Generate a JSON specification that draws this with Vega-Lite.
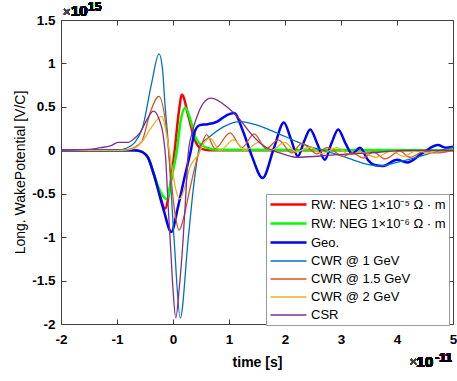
{
 "$schema": "https://vega.github.io/schema/vega-lite/v6.json",
 "width": 392, "height": 304,
 "autosize": {"type": "none"},
 "padding": {"left": 61, "top": 20, "right": 4, "bottom": 57},
 "background": "white",
 "config": {
  "view": {"stroke": "#404040", "strokeWidth": 1},
  "font": "Liberation Sans",
  "legend": {"orient": "none", "legendX": 205, "legendY": 174, "symbolType": "M-3,0H3", "symbolSize": 144, "symbolOffset": 12, "labelOffset": 15, "labelFontSize": 13, "labelFont": "Liberation Sans", "labelColor": "#000", "fillColor": "white", "strokeColor": "#999", "padding": 3, "rowPadding": 4, "symbolStrokeWidth": 2}
 },
 "data": {"values": [
  {"s":"RW: NEG 1×10⁻⁵ Ω · m","t":-2,"v":0},{"s":"RW: NEG 1×10⁻⁵ Ω · m","t":-0.7,"v":0},{"s":"RW: NEG 1×10⁻⁵ Ω · m","t":-0.59,"v":-0.01},{"s":"RW: NEG 1×10⁻⁵ Ω · m","t":-0.45,"v":-0.08},{"s":"RW: NEG 1×10⁻⁵ Ω · m","t":-0.35,"v":-0.26},{"s":"RW: NEG 1×10⁻⁵ Ω · m","t":-0.25,"v":-0.48},{"s":"RW: NEG 1×10⁻⁵ Ω · m","t":-0.14,"v":-0.67},{"s":"RW: NEG 1×10⁻⁵ Ω · m","t":-0.06,"v":-0.45},{"s":"RW: NEG 1×10⁻⁵ Ω · m","t":0.03,"v":0},{"s":"RW: NEG 1×10⁻⁵ Ω · m","t":0.1,"v":0.42},{"s":"RW: NEG 1×10⁻⁵ Ω · m","t":0.16,"v":0.64},{"s":"RW: NEG 1×10⁻⁵ Ω · m","t":0.28,"v":0.38},{"s":"RW: NEG 1×10⁻⁵ Ω · m","t":0.39,"v":0.12},{"s":"RW: NEG 1×10⁻⁵ Ω · m","t":0.5,"v":0.02},{"s":"RW: NEG 1×10⁻⁵ Ω · m","t":0.65,"v":0},{"s":"RW: NEG 1×10⁻⁵ Ω · m","t":5,"v":0},
  {"s":"RW: NEG 1×10⁻⁶ Ω · m","t":-2,"v":0},{"s":"RW: NEG 1×10⁻⁶ Ω · m","t":-0.7,"v":0},{"s":"RW: NEG 1×10⁻⁶ Ω · m","t":-0.59,"v":-0.01},{"s":"RW: NEG 1×10⁻⁶ Ω · m","t":-0.45,"v":-0.08},{"s":"RW: NEG 1×10⁻⁶ Ω · m","t":-0.35,"v":-0.26},{"s":"RW: NEG 1×10⁻⁶ Ω · m","t":-0.23,"v":-0.47},{"s":"RW: NEG 1×10⁻⁶ Ω · m","t":-0.11,"v":-0.56},{"s":"RW: NEG 1×10⁻⁶ Ω · m","t":-0.02,"v":-0.3},{"s":"RW: NEG 1×10⁻⁶ Ω · m","t":0.07,"v":0},{"s":"RW: NEG 1×10⁻⁶ Ω · m","t":0.14,"v":0.35},{"s":"RW: NEG 1×10⁻⁶ Ω · m","t":0.22,"v":0.49},{"s":"RW: NEG 1×10⁻⁶ Ω · m","t":0.33,"v":0.31},{"s":"RW: NEG 1×10⁻⁶ Ω · m","t":0.42,"v":0.12},{"s":"RW: NEG 1×10⁻⁶ Ω · m","t":0.6,"v":0.03},{"s":"RW: NEG 1×10⁻⁶ Ω · m","t":0.8,"v":0.005},{"s":"RW: NEG 1×10⁻⁶ Ω · m","t":5,"v":0},
  {"s":"Geo.","t":-2,"v":0},{"s":"Geo.","t":-0.7,"v":0},{"s":"Geo.","t":-0.59,"v":-0.01},{"s":"Geo.","t":-0.45,"v":-0.08},{"s":"Geo.","t":-0.35,"v":-0.26},{"s":"Geo.","t":-0.17,"v":-0.68},{"s":"Geo.","t":-0.03,"v":-0.94},{"s":"Geo.","t":0.09,"v":-0.65},{"s":"Geo.","t":0.21,"v":-0.3},{"s":"Geo.","t":0.32,"v":0},{"s":"Geo.","t":0.39,"v":0.22},{"s":"Geo.","t":0.48,"v":0.29},{"s":"Geo.","t":0.62,"v":0.3},{"s":"Geo.","t":0.79,"v":0.33},{"s":"Geo.","t":0.95,"v":0.4},{"s":"Geo.","t":1.09,"v":0.43},{"s":"Geo.","t":1.25,"v":0.22},{"s":"Geo.","t":1.41,"v":-0.07},{"s":"Geo.","t":1.6,"v":-0.32},{"s":"Geo.","t":1.8,"v":0.02},{"s":"Geo.","t":1.98,"v":0.32},{"s":"Geo.","t":2.1,"v":0.14},{"s":"Geo.","t":2.23,"v":-0.07},{"s":"Geo.","t":2.34,"v":0.1},{"s":"Geo.","t":2.45,"v":0.24},{"s":"Geo.","t":2.58,"v":0.07},{"s":"Geo.","t":2.71,"v":-0.11},{"s":"Geo.","t":2.83,"v":0.08},{"s":"Geo.","t":2.95,"v":0.24},{"s":"Geo.","t":3.08,"v":0.08},{"s":"Geo.","t":3.2,"v":-0.04},{"s":"Geo.","t":3.34,"v":0.03},{"s":"Geo.","t":3.48,"v":-0.11},{"s":"Geo.","t":3.6,"v":-0.17},{"s":"Geo.","t":3.75,"v":-0.18},{"s":"Geo.","t":4.0,"v":-0.11},{"s":"Geo.","t":4.18,"v":-0.14},{"s":"Geo.","t":4.46,"v":-0.03},{"s":"Geo.","t":4.73,"v":0.06},{"s":"Geo.","t":4.87,"v":0.03},{"s":"Geo.","t":5,"v":0.04},
  {"s":"CWR @ 1 GeV","t":-2,"v":0},{"s":"CWR @ 1 GeV","t":-1.0,"v":0},{"s":"CWR @ 1 GeV","t":-0.85,"v":0.02},{"s":"CWR @ 1 GeV","t":-0.68,"v":0.09},{"s":"CWR @ 1 GeV","t":-0.54,"v":0.27},{"s":"CWR @ 1 GeV","t":-0.38,"v":0.78},{"s":"CWR @ 1 GeV","t":-0.25,"v":1.11},{"s":"CWR @ 1 GeV","t":-0.19,"v":0.95},{"s":"CWR @ 1 GeV","t":-0.14,"v":0.5},{"s":"CWR @ 1 GeV","t":-0.09,"v":0.12},{"s":"CWR @ 1 GeV","t":0.02,"v":-1.03},{"s":"CWR @ 1 GeV","t":0.13,"v":-1.93},{"s":"CWR @ 1 GeV","t":0.27,"v":-1.03},{"s":"CWR @ 1 GeV","t":0.38,"v":-0.35},{"s":"CWR @ 1 GeV","t":0.48,"v":0.05},{"s":"CWR @ 1 GeV","t":0.66,"v":0.16},{"s":"CWR @ 1 GeV","t":0.9,"v":0.27},{"s":"CWR @ 1 GeV","t":1.2,"v":0.33},{"s":"CWR @ 1 GeV","t":1.5,"v":0.29},{"s":"CWR @ 1 GeV","t":1.82,"v":0.21},{"s":"CWR @ 1 GeV","t":2.21,"v":0.1},{"s":"CWR @ 1 GeV","t":2.45,"v":0.04},{"s":"CWR @ 1 GeV","t":2.68,"v":0},{"s":"CWR @ 1 GeV","t":3.04,"v":-0.07},{"s":"CWR @ 1 GeV","t":3.4,"v":-0.15},{"s":"CWR @ 1 GeV","t":3.7,"v":-0.18},{"s":"CWR @ 1 GeV","t":4.0,"v":-0.14},{"s":"CWR @ 1 GeV","t":4.41,"v":-0.07},{"s":"CWR @ 1 GeV","t":4.71,"v":-0.01},{"s":"CWR @ 1 GeV","t":5,"v":0.03},
  {"s":"CWR @ 1.5 GeV","t":-2,"v":0},{"s":"CWR @ 1.5 GeV","t":-1.0,"v":0},{"s":"CWR @ 1.5 GeV","t":-0.8,"v":0.01},{"s":"CWR @ 1.5 GeV","t":-0.56,"v":0.1},{"s":"CWR @ 1.5 GeV","t":-0.41,"v":0.43},{"s":"CWR @ 1.5 GeV","t":-0.25,"v":0.62},{"s":"CWR @ 1.5 GeV","t":-0.11,"v":0.2},{"s":"CWR @ 1.5 GeV","t":-0.03,"v":-0.35},{"s":"CWR @ 1.5 GeV","t":0.04,"v":-0.75},{"s":"CWR @ 1.5 GeV","t":0.11,"v":-0.92},{"s":"CWR @ 1.5 GeV","t":0.2,"v":-0.75},{"s":"CWR @ 1.5 GeV","t":0.3,"v":-0.45},{"s":"CWR @ 1.5 GeV","t":0.4,"v":-0.17},{"s":"CWR @ 1.5 GeV","t":0.48,"v":0},{"s":"CWR @ 1.5 GeV","t":0.6,"v":0.18},{"s":"CWR @ 1.5 GeV","t":0.75,"v":0.02},{"s":"CWR @ 1.5 GeV","t":1.02,"v":0.2},{"s":"CWR @ 1.5 GeV","t":1.23,"v":0.03},{"s":"CWR @ 1.5 GeV","t":1.45,"v":0.19},{"s":"CWR @ 1.5 GeV","t":1.66,"v":0.02},{"s":"CWR @ 1.5 GeV","t":1.88,"v":0.12},{"s":"CWR @ 1.5 GeV","t":2.12,"v":-0.03},{"s":"CWR @ 1.5 GeV","t":2.3,"v":0.08},{"s":"CWR @ 1.5 GeV","t":2.57,"v":-0.04},{"s":"CWR @ 1.5 GeV","t":2.75,"v":0.03},{"s":"CWR @ 1.5 GeV","t":3.04,"v":-0.07},{"s":"CWR @ 1.5 GeV","t":3.2,"v":-0.03},{"s":"CWR @ 1.5 GeV","t":3.4,"v":-0.09},{"s":"CWR @ 1.5 GeV","t":3.57,"v":-0.02},{"s":"CWR @ 1.5 GeV","t":3.79,"v":-0.1},{"s":"CWR @ 1.5 GeV","t":4.05,"v":-0.01},{"s":"CWR @ 1.5 GeV","t":4.23,"v":-0.08},{"s":"CWR @ 1.5 GeV","t":4.5,"v":-0.01},{"s":"CWR @ 1.5 GeV","t":4.7,"v":-0.03},{"s":"CWR @ 1.5 GeV","t":5,"v":0},
  {"s":"CWR @ 2 GeV","t":-2,"v":0},{"s":"CWR @ 2 GeV","t":-0.9,"v":0},{"s":"CWR @ 2 GeV","t":-0.7,"v":0.02},{"s":"CWR @ 2 GeV","t":-0.54,"v":0.11},{"s":"CWR @ 2 GeV","t":-0.38,"v":0.27},{"s":"CWR @ 2 GeV","t":-0.2,"v":0.39},{"s":"CWR @ 2 GeV","t":-0.12,"v":0.2},{"s":"CWR @ 2 GeV","t":-0.03,"v":-0.15},{"s":"CWR @ 2 GeV","t":0.05,"v":-0.45},{"s":"CWR @ 2 GeV","t":0.12,"v":-0.56},{"s":"CWR @ 2 GeV","t":0.2,"v":-0.45},{"s":"CWR @ 2 GeV","t":0.3,"v":-0.2},{"s":"CWR @ 2 GeV","t":0.45,"v":-0.05},{"s":"CWR @ 2 GeV","t":0.55,"v":0.08},{"s":"CWR @ 2 GeV","t":0.66,"v":0.14},{"s":"CWR @ 2 GeV","t":0.84,"v":0},{"s":"CWR @ 2 GeV","t":1.08,"v":0.12},{"s":"CWR @ 2 GeV","t":1.29,"v":0},{"s":"CWR @ 2 GeV","t":1.53,"v":0.09},{"s":"CWR @ 2 GeV","t":1.75,"v":0},{"s":"CWR @ 2 GeV","t":2.0,"v":0.09},{"s":"CWR @ 2 GeV","t":2.2,"v":-0.02},{"s":"CWR @ 2 GeV","t":2.45,"v":0.04},{"s":"CWR @ 2 GeV","t":2.65,"v":-0.04},{"s":"CWR @ 2 GeV","t":2.93,"v":0.03},{"s":"CWR @ 2 GeV","t":3.16,"v":-0.05},{"s":"CWR @ 2 GeV","t":3.35,"v":-0.02},{"s":"CWR @ 2 GeV","t":3.62,"v":-0.08},{"s":"CWR @ 2 GeV","t":3.9,"v":-0.01},{"s":"CWR @ 2 GeV","t":4.12,"v":-0.07},{"s":"CWR @ 2 GeV","t":4.36,"v":0},{"s":"CWR @ 2 GeV","t":4.54,"v":-0.03},{"s":"CWR @ 2 GeV","t":4.75,"v":0},{"s":"CWR @ 2 GeV","t":5,"v":0},
  {"s":"CSR","t":-2,"v":0},{"s":"CSR","t":-1.5,"v":0.01},{"s":"CSR","t":-1.3,"v":0.03},{"s":"CSR","t":-1.12,"v":0.05},{"s":"CSR","t":-0.98,"v":0.09},{"s":"CSR","t":-0.82,"v":0.09},{"s":"CSR","t":-0.7,"v":0.13},{"s":"CSR","t":-0.59,"v":0.2},{"s":"CSR","t":-0.45,"v":0.37},{"s":"CSR","t":-0.35,"v":0.45},{"s":"CSR","t":-0.25,"v":0.36},{"s":"CSR","t":-0.17,"v":0.15},{"s":"CSR","t":-0.13,"v":-0.1},{"s":"CSR","t":-0.09,"v":-0.6},{"s":"CSR","t":-0.04,"v":-1.15},{"s":"CSR","t":0.0,"v":-1.6},{"s":"CSR","t":0.05,"v":-1.93},{"s":"CSR","t":0.11,"v":-1.6},{"s":"CSR","t":0.18,"v":-1.03},{"s":"CSR","t":0.23,"v":-0.5},{"s":"CSR","t":0.27,"v":-0.05},{"s":"CSR","t":0.34,"v":0.2},{"s":"CSR","t":0.43,"v":0.39},{"s":"CSR","t":0.54,"v":0.54},{"s":"CSR","t":0.68,"v":0.6},{"s":"CSR","t":0.96,"v":0.5},{"s":"CSR","t":1.2,"v":0.35},{"s":"CSR","t":1.38,"v":0.2},{"s":"CSR","t":1.64,"v":0.04},{"s":"CSR","t":1.91,"v":-0.03},{"s":"CSR","t":2.2,"v":-0.08},{"s":"CSR","t":2.93,"v":-0.05},{"s":"CSR","t":3.5,"v":-0.03},{"s":"CSR","t":4.2,"v":0},{"s":"CSR","t":5,"v":0}
 ]},
 "layer": [
  {
   "mark": {"type": "line", "interpolate": "monotone"},
   "encoding": {
    "x": {"field": "t", "type": "quantitative", "scale": {"domain": [-2, 5], "nice": false, "zero": false},
      "axis": {"values": [-2,-1,0,1,2,3,4,5], "labelExpr": "'' + datum.value", "labelFlush": false, "grid": false, "tickSize": -5, "tickColor": "#404040", "domainColor": "#404040", "labelPadding": 13, "labelFontSize": 13.5, "labelFontWeight": "bold", "labelColor": "#000", "labelFont": "Liberation Sans", "title": "time [s]", "titleFontSize": 14, "titleFontWeight": "bold", "titleColor": "#000", "titlePadding": 10, "titleFont": "Liberation Sans"}},
    "y": {"field": "v", "type": "quantitative", "scale": {"domain": [-2, 1.5], "nice": false, "zero": false},
      "axis": {"values": [-2,-1.5,-1,-0.5,0,0.5,1,1.5], "labelExpr": "'' + datum.value", "labelFlush": false, "grid": false, "tickSize": -5, "tickColor": "#404040", "domainColor": "#404040", "labelPadding": 11, "labelFontSize": 13.5, "labelFontWeight": "bold", "labelColor": "#000", "labelFont": "Liberation Sans", "title": "Long. WakePotential [V/C]", "titleFontSize": 14, "titleFontWeight": "normal", "titleColor": "#000", "titlePadding": 4, "titleFont": "Liberation Sans"}},
    "color": {"field": "s", "type": "nominal", "title": null,
      "scale": {"domain": ["RW: NEG 1×10⁻⁵ Ω · m","RW: NEG 1×10⁻⁶ Ω · m","Geo.","CWR @ 1 GeV","CWR @ 1.5 GeV","CWR @ 2 GeV","CSR"],
                "range": ["#ff0000","#00ff00","#0000ff","#0072bd","#d95319","#edb120","#7e2f8e"]}},
    "strokeWidth": {"field": "s", "type": "nominal", "title": null,
      "scale": {"type": "ordinal", "domain": ["RW: NEG 1×10⁻⁵ Ω · m","RW: NEG 1×10⁻⁶ Ω · m","Geo.","CWR @ 1 GeV","CWR @ 1.5 GeV","CWR @ 2 GeV","CSR"],
                "range": [2.5,2.5,2.5,1.3,1.3,1.3,1.3]}}
   }
  },
  {
   "mark": {"type": "text", "align": "right", "baseline": "alphabetic", "dy": 38, "dx": -1, "fontSize": 12, "fontWeight": "bold", "font": "Liberation Sans", "color": "#000"},
   "encoding": {
    "x": {"datum": 5, "type": "quantitative", "axis": {"orient": "top", "values": [-2,-1,0,1,2,3,4,5], "labels": false, "domain": false, "grid": false, "tickSize": -5, "tickColor": "#404040", "title": null}},
    "y": {"datum": -2, "type": "quantitative", "axis": {"orient": "right", "values": [-2,-1.5,-1,-0.5,0,0.5,1,1.5], "labels": false, "domain": false, "grid": false, "tickSize": -5, "tickColor": "#404040", "title": null}},
    "text": {"value": "-11"}
   }
  },
  {
   "mark": {"type": "text", "align": "right", "baseline": "alphabetic", "dy": 43, "dx": -20, "fontSize": 15, "fontWeight": "bold", "font": "Liberation Sans", "color": "#000"},
   "encoding": {"x": {"datum": 5, "type": "quantitative", "axis": null}, "y": {"datum": -2, "type": "quantitative", "axis": null}, "text": {"value": "10"}}
  },
  {
   "mark": {"type": "text", "align": "right", "baseline": "alphabetic", "dy": 42, "dx": -36, "fontSize": 13, "fontWeight": "normal", "font": "Liberation Sans", "color": "#444"},
   "encoding": {"x": {"datum": 5, "type": "quantitative", "axis": null}, "y": {"datum": -2, "type": "quantitative", "axis": null}, "text": {"value": "×"}}
  },
  {
   "mark": {"type": "text", "align": "left", "baseline": "alphabetic", "dy": -4, "dx": 2, "fontSize": 13, "fontWeight": "normal", "font": "Liberation Sans", "color": "#444"},
   "encoding": {"x": {"datum": -2, "type": "quantitative", "axis": null}, "y": {"datum": 1.5, "type": "quantitative", "axis": null}, "text": {"value": "×"}}
  },
  {
   "mark": {"type": "text", "align": "left", "baseline": "alphabetic", "dy": -4, "dx": 10, "fontSize": 15, "fontWeight": "bold", "font": "Liberation Sans", "color": "#000"},
   "encoding": {"x": {"datum": -2, "type": "quantitative", "axis": null}, "y": {"datum": 1.5, "type": "quantitative", "axis": null}, "text": {"value": "10"}}
  },
  {
   "mark": {"type": "text", "align": "left", "baseline": "alphabetic", "dy": -9, "dx": 27, "fontSize": 12, "fontWeight": "bold", "font": "Liberation Sans", "color": "#000"},
   "encoding": {"x": {"datum": -2, "type": "quantitative", "axis": null}, "y": {"datum": 1.5, "type": "quantitative", "axis": null}, "text": {"value": "15"}}
  }
 ],
 "resolve": {"axis": {"x": "independent", "y": "independent"}}
}
